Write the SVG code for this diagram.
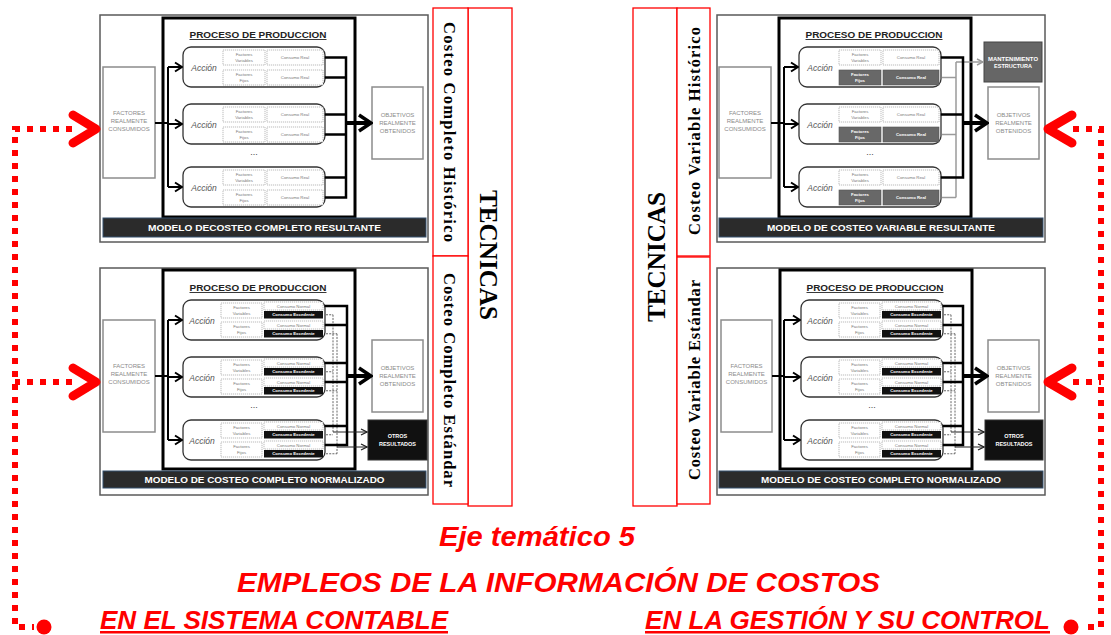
<svg xmlns="http://www.w3.org/2000/svg" width="1111" height="635" viewBox="0 0 1111 635">
<style>
text{font-family:"Liberation Sans",Arial,sans-serif}
.frame{fill:#fff;stroke:#5a5a5a;stroke-width:1.5}
.proc{fill:none;stroke:#000;stroke-width:3}
.side{fill:#fff;stroke:#8c8c8c;stroke-width:1.5}
.sidet{font-size:6px;fill:#8a8a8a;text-anchor:middle}
.bar{fill:#2b2b2b;stroke:#34506e;stroke-width:1}
.bart{font-size:9px;font-weight:bold;fill:#fff;text-anchor:middle}
.pt{font-size:9px;font-weight:bold;fill:#222;text-anchor:middle;text-decoration:underline}
.act{fill:#fff;stroke:#333;stroke-width:1.3}
.acc{font-size:8.5px;font-style:italic;fill:#555;text-anchor:middle}
.sub{fill:#fff;stroke:#aaa;stroke-width:0.8;stroke-dasharray:1.2 0.8}
.st{font-size:4.3px;fill:#777;text-anchor:middle}
.gbox{fill:#686868;stroke:#555;stroke-width:0.6}
.bbox{fill:#111}
.wt{font-size:4.3px;font-weight:bold;fill:#fff;text-anchor:middle}
.wt5{font-size:5.5px;font-weight:bold;fill:#fff;text-anchor:middle}
.dots{font-size:9px;fill:#444;text-anchor:middle}
.red{fill:#fff;stroke:#ff0000;stroke-width:1.3}
.vt{font-family:"Liberation Serif","Times New Roman",serif;font-weight:bold;fill:#000;text-anchor:middle}
.rt{font-weight:bold;font-style:italic;fill:#ff0000}
.ln{fill:none;stroke:#000;stroke-width:2.5;stroke-linecap:square}
.feed{fill:none;stroke:#000;stroke-width:2}
.big{fill:none;stroke:#000;stroke-width:4}
.gl{fill:none;stroke:#9a9a9a;stroke-width:1.5}
.dl{fill:none;stroke:#555;stroke-width:0.9;stroke-dasharray:2 1.2}
.thin{fill:none;stroke:#222;stroke-width:1}
.rdot{fill:none;stroke:#ff0000;stroke-width:6;stroke-dasharray:6 7}
.chev{fill:none;stroke:#ff0000;stroke-width:9;stroke-linecap:round;stroke-linejoin:round}
</style>
<defs>
<marker id="mFeed" markerUnits="userSpaceOnUse" viewBox="0 0 10 12" markerWidth="10" markerHeight="12" refX="9" refY="6" orient="auto"><path d="M2,1.5 L9,6 L2,10.5" fill="none" stroke="#000" stroke-width="2"/></marker>
<marker id="mBig" markerUnits="userSpaceOnUse" viewBox="0 0 16 20" markerWidth="16" markerHeight="20" refX="14" refY="10" orient="auto"><path d="M2,2 L14,10 L2,18" fill="none" stroke="#000" stroke-width="3.5"/></marker>
<marker id="mThin" markerUnits="userSpaceOnUse" viewBox="0 0 8 8" markerWidth="8" markerHeight="8" refX="7" refY="4" orient="auto"><path d="M1,1 L7,4 L1,7" fill="none" stroke="#222" stroke-width="1.3"/></marker>
<marker id="mGray" markerUnits="userSpaceOnUse" viewBox="0 0 8 8" markerWidth="8" markerHeight="8" refX="7" refY="4" orient="auto"><path d="M1,1 L7,4 L1,7" fill="none" stroke="#9a9a9a" stroke-width="1.4"/></marker>
<g id="aReal">
<rect class="act" x="0" y="0" width="142" height="40" rx="8"/>
<text class="acc" x="21" y="24">Acción</text>
<rect class="sub" x="40" y="3" width="42" height="15"/>
<text class="st" x="61" y="9.3">Factores</text><text class="st" x="61" y="15">Variables</text>
<rect class="sub" x="84" y="3" width="56" height="15"/>
<text class="st" x="112" y="12.2">Consumo Real</text>
<rect class="sub" x="40" y="23" width="42" height="15"/>
<text class="st" x="61" y="29.3">Factores</text><text class="st" x="61" y="35">Fijos</text>
<rect class="sub" x="84" y="23" width="56" height="15"/>
<text class="st" x="112" y="32.2">Consumo Real</text>
</g>
<g id="aVar">
<rect class="act" x="0" y="0" width="142" height="40" rx="8"/>
<text class="acc" x="21" y="24">Acción</text>
<rect class="sub" x="40" y="3" width="42" height="15"/>
<text class="st" x="61" y="9.3">Factores</text><text class="st" x="61" y="15">Variables</text>
<rect class="sub" x="84" y="3" width="56" height="15"/>
<text class="st" x="112" y="12.2">Consumo Real</text>
<rect class="gbox" x="40" y="23" width="42" height="15"/>
<text class="wt" x="61" y="29.3">Factores</text><text class="wt" x="61" y="35">Fijos</text>
<rect class="gbox" x="84" y="23" width="56" height="15"/>
<text class="wt" x="112" y="32.2">Consumo Real</text>
</g>
<g id="aNorm">
<rect class="act" x="0" y="0" width="142" height="40" rx="8"/>
<text class="acc" x="19" y="24">Acción</text>
<rect class="sub" x="38" y="3" width="41" height="15"/>
<text class="st" x="58.5" y="9.3">Factores</text><text class="st" x="58.5" y="15">Variables</text>
<rect class="sub" x="81" y="2" width="59" height="8"/>
<text class="st" x="110.5" y="7.6">Consumo Normal</text>
<rect class="bbox" x="81" y="11" width="59" height="7.5"/>
<text class="wt" x="110.5" y="16.3">Consumo Excedente</text>
<rect class="sub" x="38" y="22" width="41" height="15"/>
<text class="st" x="58.5" y="28.3">Factores</text><text class="st" x="58.5" y="34">Fijos</text>
<rect class="sub" x="81" y="21" width="59" height="8"/>
<text class="st" x="110.5" y="26.6">Consumo Normal</text>
<rect class="bbox" x="81" y="30" width="59" height="7.5"/>
<text class="wt" x="110.5" y="35.3">Consumo Excedente</text>
</g>
</defs>

<g id="panel-tl">
<rect class="frame" x="100" y="15" width="328" height="227"/>
<rect class="proc" x="163" y="18" width="192" height="199"/>
<text class="pt" x="258" y="38" textLength="137" lengthAdjust="spacingAndGlyphs">PROCESO DE PRODUCCION</text>
<rect class="side" x="103" y="67" width="52" height="111"/>
<text class="sidet" x="129" y="115">FACTORES</text><text class="sidet" x="129" y="123">REALMENTE</text><text class="sidet" x="129" y="131">CONSUMIDOS</text>
<rect class="side" x="372" y="87" width="51" height="72"/>
<text class="sidet" x="397.5" y="117">OBJETIVOS</text><text class="sidet" x="397.5" y="125">REALMENTE</text><text class="sidet" x="397.5" y="133">OBTENIDOS</text>
<use href="#aReal" x="183" y="47"/>
<use href="#aReal" x="183" y="104"/>
<use href="#aReal" x="183" y="167"/>
<text class="dots" x="254" y="155">...</text>
<rect class="bar" x="103" y="218" width="323" height="19"/>
<text class="bart" x="264.5" y="231" textLength="233" lengthAdjust="spacingAndGlyphs">MODELO DECOSTEO COMPLETO RESULTANTE</text>
</g>

<g id="panel-tr" transform="translate(616,0)">
<rect class="frame" x="101" y="15" width="328" height="227"/>
<rect class="proc" x="163" y="18" width="192" height="199"/>
<text class="pt" x="258" y="38" textLength="137" lengthAdjust="spacingAndGlyphs">PROCESO DE PRODUCCION</text>
<rect class="side" x="103" y="67" width="52" height="111"/>
<text class="sidet" x="129" y="115">FACTORES</text><text class="sidet" x="129" y="123">REALMENTE</text><text class="sidet" x="129" y="131">CONSUMIDOS</text>
<rect class="side" x="372" y="87" width="51" height="72"/>
<text class="sidet" x="397.5" y="117">OBJETIVOS</text><text class="sidet" x="397.5" y="125">REALMENTE</text><text class="sidet" x="397.5" y="133">OBTENIDOS</text>
<rect x="368" y="42" width="58" height="40" fill="#666" stroke="#444" stroke-width="1"/>
<text class="wt5" x="397" y="60.5" textLength="50" lengthAdjust="spacingAndGlyphs">MANTENIMIENTO</text><text class="wt5" x="397" y="67.5">ESTRUCTURA</text>
<use href="#aVar" x="183" y="47"/>
<use href="#aVar" x="183" y="104"/>
<use href="#aVar" x="183" y="167"/>
<text class="dots" x="254" y="155">...</text>
<rect class="bar" x="103" y="218" width="324" height="19"/>
<text class="bart" x="265" y="231" textLength="228" lengthAdjust="spacingAndGlyphs">MODELO DE COSTEO VARIABLE RESULTANTE</text>
</g>

<g id="panel-bl" transform="translate(0,253)">
<rect class="frame" x="100" y="15" width="328" height="227"/>
<rect class="proc" x="163" y="17" width="192" height="199"/>
<text class="pt" x="258" y="38" textLength="137" lengthAdjust="spacingAndGlyphs">PROCESO DE PRODUCCION</text>
<rect class="side" x="103" y="67" width="52" height="112"/>
<text class="sidet" x="129" y="115">FACTORES</text><text class="sidet" x="129" y="123">REALMENTE</text><text class="sidet" x="129" y="131">CONSUMIDOS</text>
<rect class="side" x="372" y="87" width="51" height="72"/>
<text class="sidet" x="397.5" y="117">OBJETIVOS</text><text class="sidet" x="397.5" y="125">REALMENTE</text><text class="sidet" x="397.5" y="133">OBTENIDOS</text>
<rect x="368" y="167" width="59" height="40" fill="#111" stroke="#333" stroke-width="1"/>
<text class="wt5" x="397.5" y="185">OTROS</text><text class="wt5" x="397.5" y="193">RESULTADOS</text>
<use href="#aNorm" x="183" y="47"/>
<use href="#aNorm" x="183" y="104"/>
<use href="#aNorm" x="183" y="167"/>
<text class="dots" x="254" y="155">...</text>
<rect class="bar" x="103" y="218" width="323" height="17"/>
<text class="bart" x="264.5" y="230" textLength="240" lengthAdjust="spacingAndGlyphs">MODELO DE COSTEO COMPLETO NORMALIZADO</text>
</g>

<g id="panel-br" transform="translate(616,253)">
<rect class="frame" x="101" y="15" width="328" height="227"/>
<rect class="proc" x="164" y="17" width="192" height="199"/>
<text class="pt" x="259" y="38" textLength="137" lengthAdjust="spacingAndGlyphs">PROCESO DE PRODUCCION</text>
<rect class="side" x="105" y="67" width="51" height="112"/>
<text class="sidet" x="130.5" y="115">FACTORES</text><text class="sidet" x="130.5" y="123">REALMENTE</text><text class="sidet" x="130.5" y="131">CONSUMIDOS</text>
<rect class="side" x="372" y="87" width="51" height="72"/>
<text class="sidet" x="397.5" y="117">OBJETIVOS</text><text class="sidet" x="397.5" y="125">REALMENTE</text><text class="sidet" x="397.5" y="133">OBTENIDOS</text>
<rect x="369" y="167" width="58" height="40" fill="#111" stroke="#333" stroke-width="1"/>
<text class="wt5" x="398" y="185">OTROS</text><text class="wt5" x="398" y="193">RESULTADOS</text>
<use href="#aNorm" x="185" y="47"/>
<use href="#aNorm" x="185" y="104"/>
<use href="#aNorm" x="185" y="167"/>
<text class="dots" x="256" y="155">...</text>
<rect class="bar" x="103" y="218" width="324" height="17"/>
<text class="bart" x="265" y="230" textLength="240" lengthAdjust="spacingAndGlyphs">MODELO DE COSTEO COMPLETO NORMALIZADO</text>
</g>

<g id="tecnicas-left">
<rect class="red" x="468" y="8" width="44" height="498"/>
<rect class="red" x="433" y="8" width="35" height="248"/>
<rect class="red" x="433" y="256" width="35" height="248"/>
<text class="vt" font-size="26" transform="translate(479.5,255) rotate(90)" textLength="130" lengthAdjust="spacingAndGlyphs">TECNICAS</text>
<text class="vt" font-size="16.5" transform="translate(443.5,132) rotate(90)" textLength="220" lengthAdjust="spacing">Costeo Completo Histórico</text>
<text class="vt" font-size="16.5" transform="translate(443.5,380) rotate(90)" textLength="214" lengthAdjust="spacing">Costeo Completo Estándar</text>
</g>

<g id="tecnicas-right">
<rect class="red" x="633" y="8" width="44" height="498"/>
<rect class="red" x="677" y="8" width="33" height="248"/>
<rect class="red" x="677" y="257" width="33" height="247"/>
<text class="vt" font-size="26" transform="translate(665,257) rotate(-90)" textLength="130" lengthAdjust="spacingAndGlyphs">TECNICAS</text>
<text class="vt" font-size="16.5" transform="translate(700,131) rotate(-90)" textLength="208" lengthAdjust="spacing">Costeo Variable Histórico</text>
<text class="vt" font-size="16.5" transform="translate(700,380) rotate(-90)" textLength="200" lengthAdjust="spacing">Costeo Variable Estándar</text>
</g>

<g id="connectors">
<g id="c-tl">
<path class="feed" d="M155,123 H168 M168,67 V187"/>
<path class="feed" marker-end="url(#mFeed)" d="M168,67 H182"/>
<path class="feed" marker-end="url(#mFeed)" d="M168,124 H182"/>
<path class="feed" marker-end="url(#mFeed)" d="M168,187 H182"/>
<path class="ln" d="M326,57.5 H346 M326,77.5 H346 M326,114.5 H346 M326,134.5 H346 M326,177.5 H346 M326,197.5 H346 M346,57.5 V197.5"/>
<path class="big" marker-end="url(#mBig)" d="M346,123 H371"/>
</g>
<g id="c-tr" transform="translate(616,0)">
<path class="feed" d="M155,123 H168 M168,67 V187"/>
<path class="feed" marker-end="url(#mFeed)" d="M168,67 H182"/>
<path class="feed" marker-end="url(#mFeed)" d="M168,124 H182"/>
<path class="feed" marker-end="url(#mFeed)" d="M168,187 H182"/>
<path class="gl" d="M326,77.5 H340 M326,134.5 H340 M326,197.5 H340 M340,62 V197.5"/>
<path class="gl" marker-end="url(#mGray)" d="M340,62 H367"/>
<path class="ln" d="M326,57.5 H347 M326,114.5 H347 M326,177.5 H347 M347,57.5 V177.5"/>
<path class="big" marker-end="url(#mBig)" d="M347,123 H371"/>
</g>
<g id="c-bl" transform="translate(0,253)">
<path class="feed" d="M155,123 H168 M168,67 V187"/>
<path class="feed" marker-end="url(#mFeed)" d="M168,67 H182"/>
<path class="feed" marker-end="url(#mFeed)" d="M168,124 H182"/>
<path class="feed" marker-end="url(#mFeed)" d="M168,187 H182"/>
<path class="dl" d="M326,61.75 H333 M326,118.75 H333 M326,181.75 H333 M333,61.75 V179 M326,80.75 H337 M326,137.75 H337 M326,200.75 H337 M337,80.75 V200.75"/>
<path class="thin" marker-end="url(#mThin)" d="M333,179 H367"/>
<path class="thin" marker-end="url(#mThin)" d="M337,194 H367"/>
<path class="ln" d="M326,53 H347 M326,72 H347 M326,110 H347 M326,129 H347 M326,173 H347 M326,192 H347 M347,53 V192"/>
<path class="big" marker-end="url(#mBig)" d="M347,123 H371"/>
</g>
<g id="c-br" transform="translate(618,253)">
<path class="feed" d="M154,123 H166 M166,67 V187"/>
<path class="feed" marker-end="url(#mFeed)" d="M166,67 H182"/>
<path class="feed" marker-end="url(#mFeed)" d="M166,124 H182"/>
<path class="feed" marker-end="url(#mFeed)" d="M166,187 H182"/>
<path class="dl" d="M326,61.75 H333 M326,118.75 H333 M326,181.75 H333 M333,61.75 V179 M326,80.75 H337 M326,137.75 H337 M326,200.75 H337 M337,80.75 V200.75"/>
<path class="thin" marker-end="url(#mThin)" d="M333,179 H366"/>
<path class="thin" marker-end="url(#mThin)" d="M337,194 H366"/>
<path class="ln" d="M326,53 H345 M326,72 H345 M326,110 H345 M326,129 H345 M326,173 H345 M326,192 H345 M345,53 V192"/>
<path class="big" marker-end="url(#mBig)" d="M345,123 H369"/>
</g>
<g id="c-red">
<path class="rdot" d="M72,129 H15 V627 H34"/>
<path class="rdot" d="M72,382 H15"/>
<polyline class="chev" points="73,115 96,129 73,143"/>
<polyline class="chev" points="73,368 96,382 73,396"/>
<circle cx="44" cy="627" r="7.5" fill="#ff0000"/>
<path class="rdot" d="M1073,129 H1101 V627 H1084"/>
<path class="rdot" d="M1073,382 H1101"/>
<polyline class="chev" points="1072,115 1048,129 1072,143"/>
<polyline class="chev" points="1072,368 1048,382 1072,396"/>
<circle cx="1071" cy="627" r="7.5" fill="#ff0000"/>
</g>
</g>

<g id="titles">
<text class="rt" font-size="28" x="537" y="546" text-anchor="middle" textLength="196" lengthAdjust="spacingAndGlyphs">Eje temático 5</text>
<text class="rt" font-size="28" x="558.5" y="592" text-anchor="middle" textLength="643" lengthAdjust="spacingAndGlyphs">EMPLEOS DE LA INFORMACIÓN DE COSTOS</text>
<text class="rt" font-size="25" x="100" y="629" text-decoration="underline" textLength="348" lengthAdjust="spacingAndGlyphs">EN EL SISTEMA CONTABLE</text>
<text class="rt" font-size="25" x="645" y="629" text-decoration="underline" textLength="405" lengthAdjust="spacingAndGlyphs">EN LA GESTIÓN Y SU CONTROL</text>
</g>
</svg>
